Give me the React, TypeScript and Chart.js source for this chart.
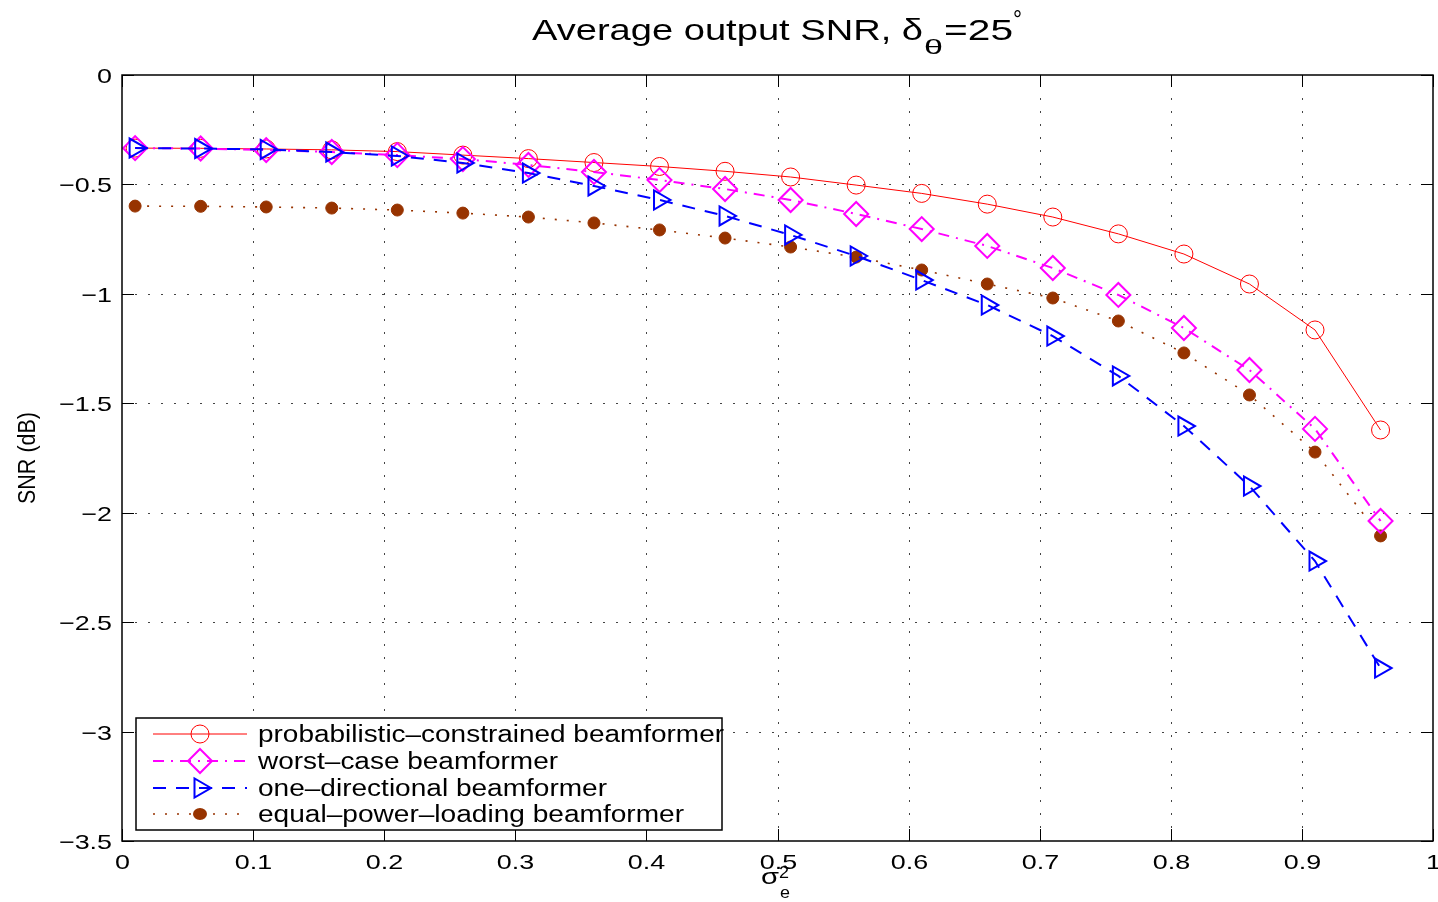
import React, { useEffect, useRef } from 'react';
import { Chart, registerables } from 'chart.js';

Chart.register(...registerables);

// ---------- data ----------
const xValues = [0.01, 0.06, 0.11, 0.16, 0.21, 0.26, 0.31, 0.36, 0.41, 0.46, 0.51, 0.56, 0.61, 0.66, 0.71, 0.76, 0.81, 0.86, 0.91, 0.96];

const probabilistic = [-0.334, -0.335, -0.338, -0.342, -0.350, -0.366, -0.382, -0.400, -0.418, -0.440, -0.466, -0.503, -0.541, -0.590, -0.649, -0.726, -0.818, -0.955, -1.165, -1.622];
const worstCase = [-0.334, -0.336, -0.343, -0.352, -0.366, -0.384, -0.411, -0.443, -0.480, -0.521, -0.571, -0.635, -0.704, -0.781, -0.882, -1.005, -1.156, -1.348, -1.617, -2.038];
const oneDirectional = [-0.334, -0.336, -0.340, -0.352, -0.370, -0.402, -0.448, -0.507, -0.571, -0.644, -0.731, -0.827, -0.937, -1.051, -1.193, -1.375, -1.604, -1.878, -2.221, -2.710];
const equalPower = [-0.599, -0.600, -0.603, -0.608, -0.617, -0.631, -0.649, -0.676, -0.708, -0.745, -0.786, -0.832, -0.891, -0.955, -1.019, -1.124, -1.270, -1.462, -1.723, -2.106];

const seriesLabels = [
  'probabilistic\u2013constrained beamformer',
  'worst\u2013case beamformer',
  'one\u2013directional beamformer',
  'equal\u2013power\u2013loading beamformer',
];

const xTickValues = [0, 0.1, 0.2, 0.3, 0.4, 0.5, 0.6, 0.7, 0.8, 0.9, 1];
const yTickValues = [0, -0.5, -1, -1.5, -2, -2.5, -3, -3.5];

const titleMain = 'Average output SNR, \u03b4';
const titleSub = '\u03b8';
const titleRest = '=25';
const titleSup = '\u00b0';
const yAxisTitle = 'SNR (dB)';
const xAxisSymbol = '\u03c3';
const xAxisSup = '2';
const xAxisSub = 'e';

const FONT = '"Liberation Sans", Arial, Helvetica, sans-serif';
const TICK_SIZE = 21;
const TICK_STRETCH = 1.28;

const styles = [
  { color: '#ff0000', width: 1, dash: [] as number[], marker: 'circle' },
  { color: '#ff00ff', width: 2, dash: [11, 7, 2, 7], marker: 'diamond' },
  { color: '#0000ff', width: 2, dash: [13, 10], marker: 'triangle' },
  { color: '#973300', width: 1.6, dash: [2, 10], marker: 'dot' },
];

function fmt(v: number): string {
  const r = Math.round(v * 100) / 100;
  if (r === 0) return '0';
  if (r < 0) return '\u2212' + String(Math.abs(r));
  return String(r);
}

function fitText(ctx: CanvasRenderingContext2D, text: string, x: number, y: number, size: number, width: number) {
  ctx.save();
  ctx.font = `${size}px ${FONT}`;
  const w = ctx.measureText(text).width;
  const sx = width / w;
  ctx.translate(x, y);
  ctx.scale(sx, 1);
  ctx.textAlign = 'left';
  ctx.textBaseline = 'alphabetic';
  ctx.fillStyle = '#000';
  ctx.fillText(text, 0, 0);
  ctx.restore();
}

function stretchText(ctx: CanvasRenderingContext2D, text: string, x: number, y: number, size: number, sx: number, align: 'left' | 'center' | 'right') {
  ctx.save();
  ctx.font = `${size}px ${FONT}`;
  const w = ctx.measureText(text).width * sx;
  let left = x;
  if (align === 'center') left = x - w / 2;
  if (align === 'right') left = x - w;
  ctx.translate(left, y);
  ctx.scale(sx, 1);
  ctx.textAlign = 'left';
  ctx.textBaseline = 'alphabetic';
  ctx.fillStyle = '#000';
  ctx.fillText(text, 0, 0);
  ctx.restore();
}

function drawMarker(ctx: CanvasRenderingContext2D, kind: string, x: number, y: number, color: string) {
  ctx.save();
  ctx.setLineDash([]);
  ctx.strokeStyle = color;
  ctx.fillStyle = color;
  ctx.beginPath();
  if (kind === 'circle') {
    ctx.lineWidth = 1;
    ctx.arc(x, y, 9, 0, Math.PI * 2);
    ctx.stroke();
  } else if (kind === 'diamond') {
    ctx.lineWidth = 2;
    const r = 12;
    ctx.moveTo(x, y - r);
    ctx.lineTo(x + r, y);
    ctx.lineTo(x, y + r);
    ctx.lineTo(x - r, y);
    ctx.closePath();
    ctx.stroke();
  } else if (kind === 'triangle') {
    ctx.lineWidth = 2;
    const r = 11;
    ctx.moveTo(x + r, y);
    ctx.lineTo(x - r / 2, y - r * 0.866);
    ctx.lineTo(x - r / 2, y + r * 0.866);
    ctx.closePath();
    ctx.stroke();
  } else {
    ctx.ellipse(x, y, 7, 6, 0, 0, Math.PI * 2);
    ctx.fill();
  }
  ctx.restore();
}

const decorPlugin = {
  id: 'matlabDecor',
  beforeDatasetsDraw(chart: any) {
    const { ctx, chartArea: a, scales } = chart;
    const xs = scales.x;
    const ys = scales.y;
    ctx.save();
    ctx.strokeStyle = '#444';
    ctx.lineWidth = 1;
    ctx.setLineDash([2, 11]);
    xTickValues.slice(1, -1).forEach((v) => {
      const px = Math.round(xs.getPixelForValue(v)) + 0.5;
      ctx.beginPath();
      ctx.moveTo(px, a.bottom);
      ctx.lineTo(px, a.top);
      ctx.stroke();
    });
    yTickValues.slice(1, -1).forEach((v) => {
      const py = Math.round(ys.getPixelForValue(v)) + 0.5;
      ctx.beginPath();
      ctx.moveTo(a.left, py);
      ctx.lineTo(a.right, py);
      ctx.stroke();
    });
    ctx.restore();
  },
  afterDatasetsDraw(chart: any) {
    const { ctx, chartArea: a, scales } = chart;
    const xs = scales.x;
    const ys = scales.y;
    ctx.save();
    // box
    ctx.strokeStyle = '#000';
    ctx.lineWidth = 1.5;
    ctx.setLineDash([]);
    ctx.strokeRect(a.left, a.top, a.right - a.left, a.bottom - a.top);
    // inward ticks + tick labels
    ctx.lineWidth = 1;
    const tl = 12;
    xTickValues.forEach((v) => {
      const px = Math.round(xs.getPixelForValue(v)) + 0.5;
      ctx.beginPath();
      ctx.moveTo(px, a.bottom);
      ctx.lineTo(px, a.bottom - tl);
      ctx.moveTo(px, a.top);
      ctx.lineTo(px, a.top + tl);
      ctx.stroke();
      stretchText(ctx, fmt(v), px, a.bottom + 28, TICK_SIZE, TICK_STRETCH, 'center');
    });
    yTickValues.forEach((v) => {
      const py = Math.round(ys.getPixelForValue(v)) + 0.5;
      ctx.beginPath();
      ctx.moveTo(a.left, py);
      ctx.lineTo(a.left + tl, py);
      ctx.moveTo(a.right, py);
      ctx.lineTo(a.right - tl, py);
      ctx.stroke();
      stretchText(ctx, fmt(v), a.left - 10, py + 7.5, TICK_SIZE, TICK_STRETCH, 'right');
    });

    // legend
    const bx = 136, by = 718, bw = 586, bh = 112;
    ctx.fillStyle = '#fff';
    ctx.fillRect(bx, by, bw, bh);
    ctx.strokeStyle = '#000';
    ctx.lineWidth = 1.5;
    ctx.strokeRect(bx, by, bw, bh);
    const rows = [734, 761, 788, 814];
    const textWidths = [466, 300, 349, 426];
    seriesLabels.forEach((label, i) => {
      const s = styles[i];
      const yy = rows[i];
      ctx.save();
      ctx.strokeStyle = s.color;
      ctx.lineWidth = s.width;
      ctx.setLineDash(s.dash);
      ctx.beginPath();
      ctx.moveTo(153, yy);
      ctx.lineTo(247, yy);
      ctx.stroke();
      ctx.restore();
      drawMarker(ctx, s.marker, 200, yy, s.color);
      fitText(ctx, label, 258, yy + 8, 23, textWidths[i]);
    });

    // title
    fitText(ctx, titleMain, 532, 40, 30, 391);
    fitText(ctx, titleSub, 924, 54, 20, 19);
    fitText(ctx, titleRest, 944, 40, 30, 69);
    fitText(ctx, titleSup, 1013, 28, 26, 9);

    // x axis title
    fitText(ctx, xAxisSymbol, 761, 884, 22, 18);
    fitText(ctx, xAxisSup, 779, 878, 16, 10);
    fitText(ctx, xAxisSub, 780, 898, 16, 10);

    // y axis title
    ctx.save();
    ctx.translate(35, 458);
    ctx.rotate(-Math.PI / 2);
    fitText(ctx, yAxisTitle, -46, 0, 23, 92);
    ctx.restore();

    ctx.restore();
  },
};

export default function App() {
  const canvasRef = useRef<HTMLCanvasElement | null>(null);

  useEffect(() => {
    const canvas = canvasRef.current;
    if (!canvas) return;
    const data = [probabilistic, worstCase, oneDirectional, equalPower];
    const pointStyles = ['circle', 'rectRot', 'triangle', 'circle'];
    const radii = [9, 12, 11, 6];
    const pw = [1, 2, 2, 1];
    const datasets = data.map((vals, i) => ({
      label: seriesLabels[i],
      data: xValues.map((x, j) => ({ x, y: vals[j] })),
      borderColor: styles[i].color,
      borderWidth: styles[i].width,
      borderDash: styles[i].dash,
      pointStyle: pointStyles[i],
      pointRotation: i === 2 ? 90 : 0,
      pointRadius: radii[i],
      pointBorderWidth: pw[i],
      pointBorderColor: styles[i].color,
      pointBackgroundColor: i === 3 ? styles[i].color : 'rgba(0,0,0,0)',
      backgroundColor: 'rgba(0,0,0,0)',
      fill: false,
      tension: 0,
      order: i === 0 ? 3 : i === 1 ? 1 : i === 2 ? 0 : 2,
    }));

    const chart = new Chart(canvas, {
      type: 'line',
      data: { datasets },
      options: {
        responsive: false,
        devicePixelRatio: 1,
        animation: false,
        layout: { autoPadding: false, padding: { top: 75, right: 5, left: 0, bottom: 0 } },
        plugins: {
          legend: { display: false },
          title: { display: false },
          tooltip: { enabled: false },
        },
        scales: {
          x: {
            type: 'linear',
            min: 0,
            max: 1,
            grid: { display: false, drawTicks: false },
            border: { display: false },
            afterBuildTicks: (scale: any) => {
              scale.ticks = xTickValues.map((v) => ({ value: v }));
            },
            afterFit: (scale: any) => {
              scale.height = 61;
              scale.paddingLeft = 0;
              scale.paddingRight = 0;
            },
            ticks: { display: false },
          },
          y: {
            type: 'linear',
            min: -3.5,
            max: 0,
            grid: { display: false, drawTicks: false },
            border: { display: false },
            afterBuildTicks: (scale: any) => {
              scale.ticks = yTickValues.map((v) => ({ value: v }));
            },
            afterFit: (scale: any) => {
              scale.width = 122;
              scale.paddingTop = 0;
              scale.paddingBottom = 0;
            },
            ticks: { display: false },
          },
        },
      },
      plugins: [decorPlugin],
    });
    return () => chart.destroy();
  }, []);

  return (
    <div style={{ position: 'fixed', left: 0, top: 0, width: 1438, height: 902, background: '#fff' }}>
      <canvas ref={canvasRef} width={1438} height={902} style={{ display: 'block' }} />
    </div>
  );
}
